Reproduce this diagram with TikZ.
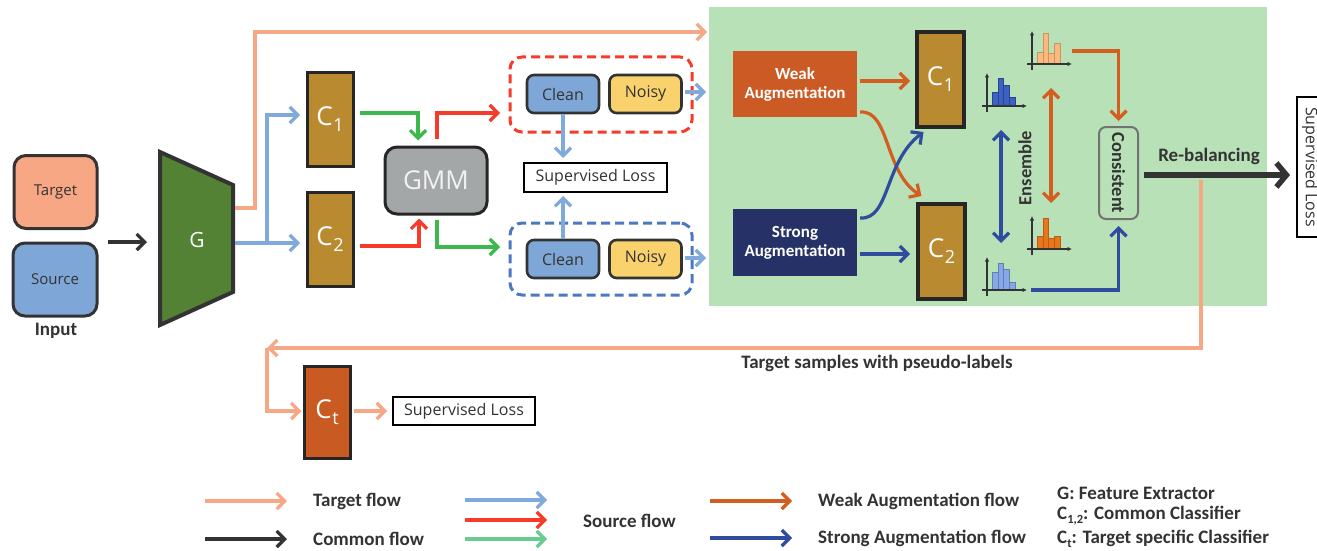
\documentclass[tikz,border=0pt]{standalone}
\usepackage{fontspec}
\setmainfont{Carlito}
\newfontfamily\osans{Open Sans}
\usetikzlibrary{arrows.meta,calc}

\definecolor{tgt}{HTML}{F6A886}
\definecolor{tgtfill}{HTML}{F7A783}
\definecolor{src}{HTML}{80A9DC}
\definecolor{srcfill}{HTML}{7EA7D8}
\definecolor{grn}{HTML}{3DB84C}
\definecolor{rd}{HTML}{F63B2B}
\definecolor{legG}{HTML}{6ACB8F}
\definecolor{cls}{HTML}{B98A2F}
\definecolor{ctc}{HTML}{C95A22}
\definecolor{gmmc}{HTML}{A4A7A8}
\definecolor{gc}{HTML}{548235}
\definecolor{panel}{HTML}{B9E1B7}
\definecolor{weakc}{HTML}{CC5A24}
\definecolor{strongc}{HTML}{263267}
\definecolor{wflowc}{HTML}{D35E20}
\definecolor{sflowc}{HTML}{2F4C9E}
\definecolor{noisyc}{HTML}{F9D26E}
\definecolor{dblue}{HTML}{4C78C2}
\definecolor{dk}{HTML}{333333}
\definecolor{hA}{HTML}{3C62C6}
\definecolor{hB}{HTML}{FBB97E}
\definecolor{hC}{HTML}{E8761C}
\definecolor{hD}{HTML}{87A8E8}

% C label with a lowered index
\newcommand\clab[1]{C\kern0.5pt\raisebox{-6pt}{\fontsize{18}{20}\selectfont #1}}

% small bar chart: origin x, origin y, fill, edge, four bar heights
\newcommand\histo[8]{%
  \foreach \h [count=\i from 0] in {#5,#6,#7,#8}
    \filldraw[fill=#3,draw=#4,line width=0.6pt] ({#1+5+5.8*\i},{#2}) rectangle ++(5.8,-\h);
  \draw[axisline] ({#1},{#2+6}) -- ({#1},{#2-33});
  \draw[axisline] ({#1-5},{#2}) -- ({#1+40},{#2});
}

\tikzset{
  >={Straight Barb[length=8pt,width=16pt]},
  flowline/.style={line width=3.2pt,->},
  tflow/.style={flowline,draw=tgt},
  srcflow/.style={flowline,draw=src},
  grnflow/.style={flowline,draw=grn},
  redflow/.style={flowline,draw=rd},
  cflow/.style={flowline,draw=dk},
  wf/.style={flowline,draw=wflowc},
  sf/.style={flowline,draw=sflowc},
  axisline/.style={draw=dk,line width=1.2pt,-{Latex[length=4.5pt,width=4.5pt]}},
  inbox/.style={draw=dk,line width=3pt,rounded corners=12pt,inner sep=0pt,
    font=\osans\fontsize{15}{18}\selectfont,text=dk},
  clsbox/.style={fill=cls,draw=black!85,line width=3pt,inner sep=0pt,text=white,
    font=\osans\fontsize{26}{28}\selectfont},
  smallbox/.style={draw=dk,line width=2.6pt,rounded corners=7pt,inner sep=0pt,
    minimum width=72,minimum height=38,font=\osans\fontsize{16}{18}\selectfont,text=dk},
  lossbox/.style={draw=black,line width=2pt,inner sep=0pt,
    font=\osans\fontsize{16}{18}\selectfont,text=dk},
  dashbox/.style={line width=3pt,dash pattern=on 9pt off 5pt,rounded corners=12pt,
    inner sep=0pt},
  augbox/.style={inner sep=0pt,text=white,align=center,
    font=\bfseries\fontsize{17}{19}\selectfont},
  boldlab/.style={inner sep=0pt,text=dk,font=\bfseries\fontsize{19}{21}\selectfont},
  leglab/.style={inner sep=0pt,anchor=west,text=dk,font=\bfseries\fontsize{19}{22}\selectfont},
}

\begin{document}
\begin{tikzpicture}[x=1pt,y=-1pt]
\useasboundingbox (0,0) rectangle (1317,551);
\fill[white] (0,0) rectangle (1317,551);

% augmentation panel
\fill[panel] (709,7) rectangle (1267,306);

% inputs
\node[inbox,fill=tgtfill,minimum width=83,minimum height=73] (target) at (55.5,192) {Target};
\node[inbox,fill=srcfill,minimum width=84,minimum height=73] (source) at (55,279.5) {Source};
\node[boldlab] (input) at (56,331) {Input};

% feature extractor
\draw[fill=gc,draw=dk,line width=4pt] (160,152) -- (233,185) -- (233,292) -- (160,325) -- cycle;
\node[text=white,font=\osans\fontsize{21}{24}\selectfont] (g) at (197,240) {G};

\coordinate (inpt) at (108,242);
\coordinate (gin) at (147,242);
\draw[cflow] (inpt) -- (gin);

% target flow to the panel
\coordinate (gtop) at (235,208);
\coordinate (panelin) at (707,32);
\draw[tflow] (gtop) -- (255,208) |- (panelin);

% common classifiers
\node[clsbox,minimum width=46,minimum height=93] (c1) at (330,119.5) {\clab{1}};
\node[clsbox,minimum width=46,minimum height=94] (c2) at (330,239) {\clab{2}};

\coordinate (gout) at (235,243);
\coordinate (split) at (267,243);
\coordinate (c1in) at (300,115);
\coordinate (c2in) at (300,243);
\draw[srcflow] (gout) -- (c2in);
\draw[srcflow] (split) |- (c1in);

% GMM
\node[draw=black!85,line width=3pt,fill=gmmc,rounded corners=12pt,minimum width=102,
  minimum height=67,inner sep=0pt,text=white!95!black,
  font=\osans\fontsize{26}{28}\selectfont] (gmm) at (436,180.5) {GMM};

\coordinate (c1out) at (360,113);
\coordinate (c2out) at (360,246);
\draw[grnflow] (c1out) -| ($(gmm.north)+(-18,-5)$);
\draw[redflow] (c2out) -| ($(gmm.south)+(-17,3)$);

% clean / noisy groups
\node[dashbox,draw=rd,minimum width=182,minimum height=75] (rgroup) at (601,94.5) {};
\node[dashbox,draw=dblue,minimum width=182,minimum height=72] (bgroup) at (601,259) {};

\coordinate (rin) at (500,113);
\coordinate (gin2) at (500,247);
\draw[redflow] ($(gmm.north)+(1,-7)$) |- (rin);
\draw[grnflow] ($(gmm.south)+(1,4)$) |- (gin2);

\node[smallbox,fill=srcfill] (clean1) at (563,94) {Clean};
\node[smallbox,fill=noisyc] (noisy1) at (645.5,94) {Noisy};
\node[smallbox,fill=srcfill] (clean2) at (563,259) {Clean};
\node[smallbox,fill=noisyc] (noisy2) at (645.5,259) {Noisy};

\node[lossbox,minimum width=143,minimum height=29] (sl) at (595.5,177.5) {Supervised Loss};
\draw[srcflow,shorten >=4pt] (clean1.south) -- (clean1.south |- sl.north);
\draw[srcflow,shorten >=3pt] (clean2.north) -- (clean2.north |- sl.south);

\coordinate (nout1) at (706,92);
\coordinate (nout2) at (706,258);
\draw[srcflow] ($(noisy1.east)+(2,-2)$) -- (nout1);
\draw[srcflow] ($(noisy2.east)+(2,-1)$) -- (nout2);

% augmentations
\node[augbox,fill=weakc,minimum width=124,minimum height=66] (weak) at (795,84) {Weak\\Augmentation};
\node[augbox,fill=strongc,minimum width=124,minimum height=67] (strong) at (795,242.5) {Strong\\Augmentation};

\node[clsbox,line width=4pt,minimum width=47,minimum height=95] (c1r) at (940.5,79.5) {\clab{1}};
\node[clsbox,line width=4pt,minimum width=47,minimum height=95] (c2r) at (941.5,251.5) {\clab{2}};

\draw[wf] ($(weak.east)+(3,-3)$) -- ($(c1r.west)+(-5,1.5)$);
\draw[sf] ($(strong.east)+(3,11.5)$) -- ($(c2r.west)+(-6,2.5)$);
\draw[wf] ($(weak.east)+(3,28)$) .. controls (890,110) and (884,172) .. ($(c2r.north)+(-20,-6)$);
\draw[sf] ($(strong.east)+(3,-24.5)$) .. controls (890,220) and (884,162) .. ($(c1r.south)+(-17,3)$);

% prediction histograms
\histo{987}{106}{hA}{hA!70!black}{14}{28}{21}{9}
\histo{1032}{64}{hB}{hB!80!black}{12}{31}{11}{21}
\histo{1032}{249}{hC}{hC!80!black}{13}{31}{11}{13}
\histo{987}{290}{hD}{hD!75!black}{18}{27}{21}{8}

\coordinate (ensA) at (1001,130);
\coordinate (ensB) at (1001,243);
\coordinate (ensC) at (1051,88);
\coordinate (ensD) at (1051,203);
\draw[sf,<->] (ensA) -- (ensB);
\draw[wf,<->] (ensC) -- (ensD);
\node[boldlab,font=\bfseries\fontsize{18.5}{21}\selectfont,rotate=90] (ens) at (1025,168) {Ensemble};

% consistency check
\node[draw=black!55,line width=2pt,rounded corners=7pt,minimum width=39,minimum height=92,
  inner sep=0pt] (cons) at (1118.5,173) {};
\node[boldlab,font=\bfseries\fontsize{18.5}{21}\selectfont,rotate=-90] (constxt) at (cons.center) {Consistent};

\coordinate (hBout) at (1072,51);
\coordinate (hDout) at (1031,290);
\draw[wf] (hBout) -| ($(cons.north)+(0,-5)$);
\draw[sf] (hDout) -| ($(cons.south)+(0,6)$);

% re-balancing to the supervised loss
\node[draw=black,line width=2pt,minimum width=30,minimum height=140,inner sep=0pt] (slv) at (1312,167) {};
\node[inner sep=0pt,rotate=-90,text=dk,font=\osans\fontsize{16}{18}\selectfont] (slvtxt) at (1310,167) {Supervised Loss};
\coordinate (rbend) at (1290,175);
\draw[draw=dk,line width=5.5pt,-{Straight Barb[length=10pt,width=24pt]}] ($(cons.east)+(5,2)$) -- (rbend);
\node[boldlab] (rebal) at (1209,156) {Re-balancing};

% pseudo-label feedback to the target classifier
\node[clsbox,fill=ctc,minimum width=46,minimum height=92] (ct) at (327,412) {\clab{t}};
\node[lossbox,minimum width=142,minimum height=28] (sl2) at (464,411) {Supervised Loss};

\coordinate (fbtop) at (1201,180);
\coordinate (fbcorner) at (267,348);
\draw[tflow] (fbtop) |- (fbcorner);
\draw[tflow] (fbcorner) |- ($(ct.west)+(-1,-1)$);
\draw[tflow] ($(ct.east)+(2,-1)$) -- ($(sl2.west)+(-5,0)$);
\node[boldlab] (pseudo) at (877,363) {Target samples with pseudo-labels};

% legend
\draw[tflow] (205,501) -- (287,501);
\node[leglab] (lt) at (313,501) {Target flow};
\draw[cflow] (205,539) -- (287,539);
\node[leglab] (lc) at (313,539) {Common flow};
\draw[srcflow] (465,500) -- (547,500);
\draw[redflow] (465,520) -- (547,520);
\draw[flowline,draw=legG] (465,539) -- (547,539);
\node[leglab] (ls) at (583,521) {Source flow};
\draw[wf] (710,501) -- (792,501);
\node[leglab] (lw) at (818,501) {Weak Augmentation flow};
\draw[sf] (710,538) -- (792,538);
\node[leglab] (lst) at (818,538) {Strong Augmentation flow};
\node[leglab] (lg) at (1057,493) {G: Feature Extractor};
\node[leglab] (lcc) at (1057,516) {C\raisebox{-4pt}{\fontsize{12.5}{14}\selectfont 1,2}: Common Classifier};
\node[leglab] (lct) at (1057,539) {C\raisebox{-4pt}{\fontsize{12.5}{14}\selectfont t}: Target specific Classifier};
\end{tikzpicture}
\end{document}
